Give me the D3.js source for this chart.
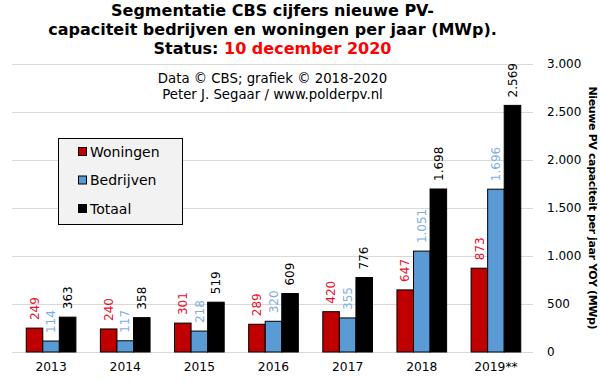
<!DOCTYPE html>
<html><head><meta charset="utf-8">
<script src="https://cdn.jsdelivr.net/npm/d3@7"></script>
<style>body{margin:0;background:#fff}svg{display:block}text{font-family:"DejaVu Sans",Verdana,sans-serif}</style>
</head><body><svg id="c" width="601" height="383"></svg>
<script>
const years = ["2013","2014","2015","2016","2017","2018","2019**"];
const woningen = [249,240,301,289,420,647,873];
const bedrijven = [114,117,218,320,355,1051,1696];
const totaal = [363,358,519,609,776,1698,2569];
const yTicks = [0,500,1000,1500,2000,2500,3000];
const seriesNames = ["Woningen","Bedrijven","Totaal"];
const seriesColors = ["#C00000","#5B9BD5","#000000"];
const labelColors = ["#E8102A","#7FAEE0","#000000"];

const loc = d3.formatLocale({decimal:",",thousands:".",grouping:[3],currency:["€",""]});
const fmt = loc.format(",d");
const svg = d3.select("#c");

const y = d3.scaleLinear().domain([0,3000]).range([352,64]);
const x = d3.scaleBand().domain(years).range([14,533]).paddingInner(0.33).paddingOuter(0.165);
const xs = d3.scaleBand().domain(seriesNames).range([0,x.bandwidth()]);

// gridlines
svg.append("g").selectAll("line").data(yTicks).join("line")
  .attr("x1",12).attr("x2",533).attr("y1",d=>y(d)).attr("y2",d=>y(d))
  .attr("stroke","#D9D9D9").attr("stroke-width",1).attr("shape-rendering","crispEdges");

// right axis
const ax = svg.append("g").attr("transform","translate(547,0)")
  .call(d3.axisRight(y).tickValues(yTicks).tickFormat(fmt).tickSize(0).tickPadding(0));
ax.select(".domain").remove();
ax.selectAll("text").attr("font-size","12px").attr("fill","#000").attr("font-family","DejaVu Sans");

// bottom axis
const bx = svg.append("g").attr("transform","translate(0,352)")
  .call(d3.axisBottom(x).tickSize(0).tickPadding(10));
bx.select(".domain").remove();
bx.selectAll("text").attr("font-size","12.3px").attr("fill","#000").attr("font-family","DejaVu Sans");

const data = [woningen,bedrijven,totaal];
const rows = [];
years.forEach((yr,i)=>seriesNames.forEach((s,j)=>rows.push({yr,s,j,v:data[j][i]})));

svg.append("g").selectAll("rect").data(rows).join("rect")
  .attr("x",d=>x(d.yr)+xs(d.s)).attr("width",xs.bandwidth())
  .attr("y",d=>y(d.v)).attr("height",d=>y(0)-y(d.v))
  .attr("fill",d=>seriesColors[d.j]).attr("stroke","#000").attr("stroke-width",1);

svg.append("g").selectAll("text").data(rows).join("text")
  .attr("transform",d=>`translate(${x(d.yr)+xs(d.s)+xs.bandwidth()/2},${y(d.v)-8}) rotate(-90)`)
  .attr("dy","0.35em").attr("font-size","12px").attr("fill",d=>labelColors[d.j])
  .text(d=>fmt(d.v));

// title
const t = svg.append("text").attr("text-anchor","middle").attr("font-weight","bold").attr("font-size","16px").attr("font-family","DejaVu Sans");
t.append("tspan").attr("x",272.5).attr("y",16).text("Segmentatie CBS cijfers nieuwe PV-");
t.append("tspan").attr("x",272.5).attr("y",35).text("capaciteit bedrijven en woningen per jaar (MWp).");
const l3 = t.append("tspan").attr("x",272.5).attr("y",54);
l3.append("tspan").text("Status: ");
l3.append("tspan").attr("fill","#FF0000").text("10 december 2020");

svg.append("text").attr("x",272.5).attr("y",83).attr("text-anchor","middle").attr("font-size","13.3px").text("Data © CBS; grafiek © 2018-2020");
svg.append("text").attr("x",272.5).attr("y",99).attr("text-anchor","middle").attr("font-size","13.3px").text("Peter J. Segaar / www.polderpv.nl");

// legend
const lg = svg.append("g");
lg.append("rect").attr("x",58.5).attr("y",138.5).attr("width",124).attr("height",86).attr("fill","#F2F2F2").attr("stroke","#000");
seriesNames.forEach((s,i)=>{
  const cy = 152 + i*28.5;
  lg.append("rect").attr("x",78.5).attr("y",cy-4.5).attr("width",8).attr("height",8).attr("fill",seriesColors[i]).attr("stroke","#000");
  lg.append("text").attr("x",90).attr("y",cy).attr("dy","0.35em").attr("font-size","14px").text(s);
});

// right axis title
svg.append("text").attr("transform","translate(593,208) rotate(90)").attr("text-anchor","middle").attr("dy","0.35em")
  .attr("font-size","11px").attr("font-weight","bold").attr("textLength",243).attr("lengthAdjust","spacing")
  .text("Nieuwe PV capaciteit per jaar YOY (MWp)");
</script></body></html>
